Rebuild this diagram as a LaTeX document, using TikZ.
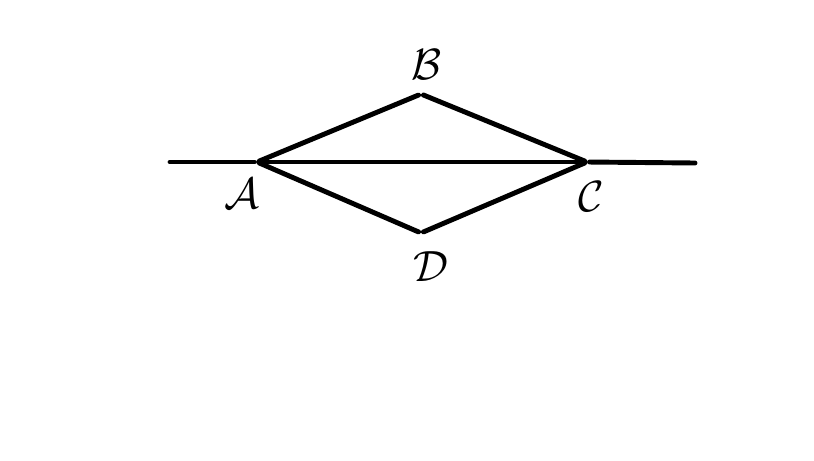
\documentclass[tikz,border=0pt]{standalone}
\usepackage{amsmath}
\usepackage{amssymb}
\usepackage{tikz}
\usetikzlibrary{arrows}

\begin{document}
\begin{tikzpicture}[x=0.02cm, y=-0.02cm]
			\tikzstyle{vertex} = [inner sep=0pt, minimum size=0pt]
			\tikzstyle{letter} = [inner sep=1pt, font=\Huge]

			\useasboundingbox (0,0) rectangle (814,460);

			\begin{scope}
			\path[-, line width=2.8pt, line cap=round, line join=miter]
			coordinate (l) at (170,162)
			coordinate (r) at (695,163)
			node[vertex] (a) at (257,162) {}
			node[vertex] (b) at (421,94) {}
			node[vertex] (c) at (587,162) {}
			node[vertex] (d) at (421,233) {}

			node[letter] (la) at (242,194) {$\mathcal{A}$}
			node[letter] (lb) at (427,65) {$\mathcal{B}$}
			node[letter] (lc) at (591,197) {$\mathcal{C}$}
			node[letter] (ld) at (431,267) {$\mathcal{D}$}

			(l) edge (a)
			(a) edge (c)
			(c) edge (r)
			(a) edge (b)
			(b) edge (c)
			(a) edge (d)
			(d) edge (c)
			;
			\end{scope}

			\end{tikzpicture}
\end{document}
